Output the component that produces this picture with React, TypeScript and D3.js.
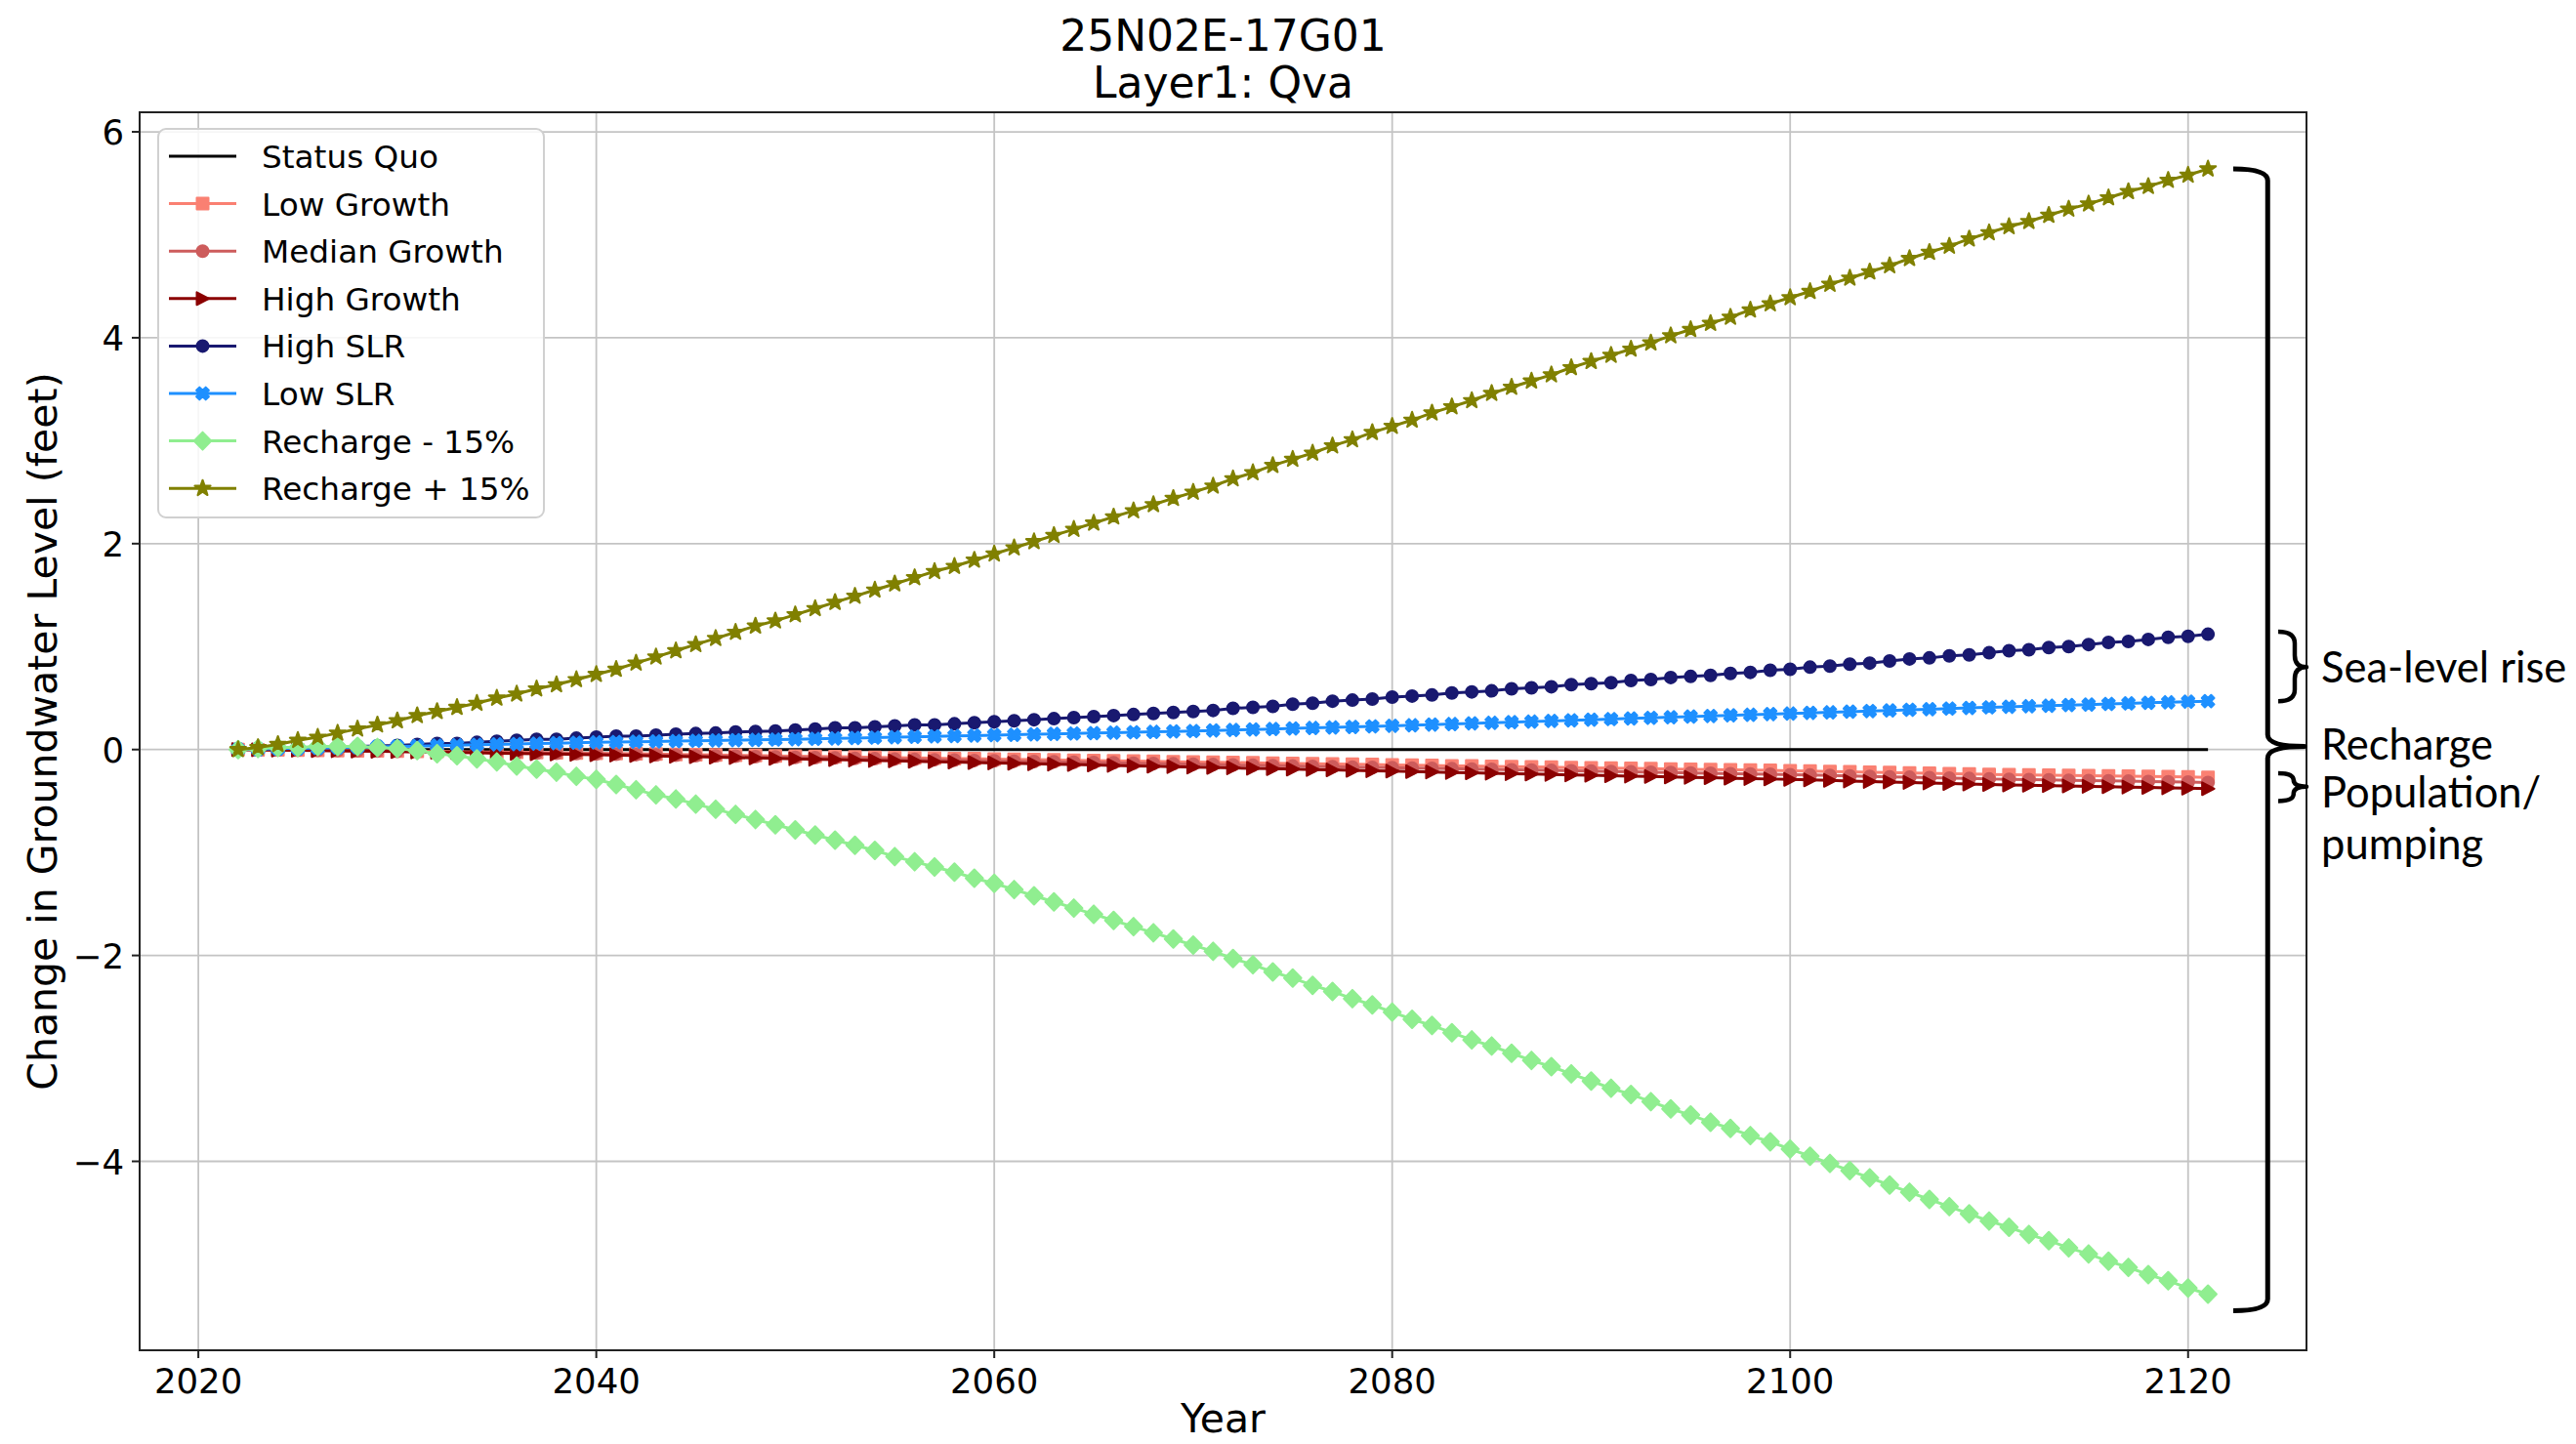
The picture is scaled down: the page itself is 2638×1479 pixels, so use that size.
import React from "react";
import * as d3 from "d3";

const years = d3.range(2022, 2122);

const statusQuo = [
  0,0,0,0,0,0,0,0,0,0, 0,0,0,0,0,0,0,0,0,0, 0,0,0,0,0,0,0,0,0,0, 0,0,0,0,0,0,0,0,0,0, 0,0,0,0,0,0,0,0,0,0,
  0,0,0,0,0,0,0,0,0,0, 0,0,0,0,0,0,0,0,0,0, 0,0,0,0,0,0,0,0,0,0, 0,0,0,0,0,0,0,0,0,0, 0,0,0,0,0,0,0,0,0,0,
];

const lowGrowth = [
  0,-0.002,-0.003,-0.005,-0.007,-0.009,-0.011,-0.012,-0.014,
  -0.016,-0.018,-0.021,-0.023,-0.025,-0.027,-0.029,-0.031,-0.033,-0.036,
  -0.038,-0.041,-0.044,-0.047,-0.05,-0.053,-0.055,-0.058,-0.061,-0.064,
  -0.067,-0.07,-0.072,-0.075,-0.078,-0.081,-0.084,-0.087,-0.089,-0.092,
  -0.095,-0.098,-0.101,-0.104,-0.107,-0.109,-0.112,-0.115,-0.118,-0.121,
  -0.124,-0.126,-0.129,-0.132,-0.135,-0.138,-0.141,-0.143,-0.146,-0.149,
  -0.152,-0.155,-0.158,-0.16,-0.163,-0.166,-0.169,-0.172,-0.175,-0.178,
  -0.18,-0.183,-0.186,-0.189,-0.192,-0.195,-0.197,-0.2,-0.203,-0.206,
  -0.209,-0.213,-0.216,-0.22,-0.224,-0.227,-0.231,-0.234,-0.238,-0.241,
  -0.244,-0.246,-0.249,-0.251,-0.254,-0.256,-0.259,-0.261,-0.264,-0.267,-0.27,
];

const medianGrowth = [
  0,-0.002,-0.004,-0.006,-0.008,-0.01,-0.012,-0.014,-0.017,
  -0.019,-0.022,-0.024,-0.027,-0.029,-0.032,-0.034,-0.037,-0.039,-0.042,
  -0.045,-0.049,-0.052,-0.055,-0.059,-0.062,-0.065,-0.069,-0.072,-0.076,
  -0.079,-0.082,-0.086,-0.089,-0.092,-0.096,-0.099,-0.102,-0.106,-0.109,
  -0.113,-0.116,-0.119,-0.123,-0.126,-0.129,-0.133,-0.136,-0.139,-0.143,
  -0.146,-0.15,-0.153,-0.156,-0.16,-0.163,-0.166,-0.17,-0.173,-0.176,
  -0.18,-0.183,-0.186,-0.19,-0.193,-0.197,-0.2,-0.203,-0.207,-0.21,
  -0.213,-0.217,-0.22,-0.223,-0.227,-0.23,-0.234,-0.237,-0.24,-0.244,
  -0.248,-0.252,-0.256,-0.26,-0.265,-0.269,-0.273,-0.277,-0.281,-0.286,
  -0.289,-0.292,-0.295,-0.298,-0.301,-0.304,-0.307,-0.31,-0.313,-0.316,-0.32,
];

const highGrowth = [
  0,-0.002,-0.005,-0.007,-0.01,-0.012,-0.015,-0.017,-0.02,
  -0.023,-0.026,-0.029,-0.032,-0.035,-0.038,-0.041,-0.044,-0.047,-0.05,
  -0.054,-0.058,-0.062,-0.066,-0.07,-0.074,-0.078,-0.082,-0.086,-0.09,
  -0.094,-0.098,-0.102,-0.106,-0.11,-0.114,-0.118,-0.122,-0.126,-0.13,
  -0.134,-0.138,-0.142,-0.146,-0.15,-0.154,-0.158,-0.162,-0.166,-0.17,
  -0.174,-0.178,-0.182,-0.186,-0.19,-0.194,-0.198,-0.202,-0.206,-0.21,
  -0.214,-0.218,-0.222,-0.226,-0.23,-0.234,-0.238,-0.242,-0.246,-0.25,
  -0.254,-0.258,-0.262,-0.266,-0.27,-0.274,-0.278,-0.282,-0.286,-0.29,
  -0.295,-0.3,-0.305,-0.31,-0.315,-0.32,-0.325,-0.33,-0.335,-0.34,
  -0.344,-0.347,-0.351,-0.354,-0.358,-0.361,-0.365,-0.368,-0.372,-0.376,-0.38,
];

const highSLR = [
  0,0.005,0.01,0.015,0.02,0.025,0.03,0.035,0.04,
  0.05,0.06,0.06,0.07,0.08,0.09,0.1,0.1,0.11,0.12,
  0.13,0.13,0.14,0.15,0.155,0.16,0.17,0.175,0.18,0.19,
  0.2,0.21,0.21,0.22,0.23,0.24,0.24,0.25,0.26,0.27,
  0.28,0.29,0.3,0.31,0.32,0.33,0.34,0.35,0.36,0.37,
  0.38,0.4,0.41,0.42,0.44,0.45,0.47,0.48,0.49,0.51,
  0.52,0.53,0.55,0.56,0.57,0.59,0.6,0.61,0.63,0.64,
  0.65,0.67,0.68,0.7,0.71,0.72,0.74,0.75,0.77,0.78,
  0.8,0.81,0.83,0.84,0.86,0.88,0.89,0.91,0.92,0.94,
  0.96,0.97,0.99,1.0,1.02,1.04,1.05,1.07,1.09,1.1,1.12,
];

const lowSLR = [
  0,0.004,0.008,0.011,0.015,0.019,0.022,0.026,0.03,
  0.034,0.038,0.042,0.046,0.05,0.054,0.058,0.062,0.066,0.07,
  0.073,0.076,0.079,0.082,0.085,0.088,0.091,0.094,0.097,0.1,
  0.104,0.108,0.112,0.116,0.12,0.124,0.128,0.132,0.136,0.14,
  0.144,0.148,0.152,0.156,0.16,0.164,0.168,0.172,0.176,0.18,
  0.185,0.19,0.195,0.2,0.205,0.21,0.215,0.22,0.225,0.23,
  0.236,0.242,0.248,0.254,0.26,0.266,0.272,0.278,0.284,0.29,
  0.296,0.302,0.308,0.314,0.32,0.326,0.332,0.338,0.344,0.35,
  0.356,0.362,0.368,0.374,0.38,0.386,0.392,0.398,0.404,0.41,
  0.415,0.421,0.426,0.432,0.437,0.443,0.448,0.454,0.459,0.465,0.47,
];

const rechargeMinus15 = [
  0,0.01,0.02,0.02,0.03,0.03,0.03,0.02,0.01,
  -0.01,-0.04,-0.06,-0.09,-0.12,-0.16,-0.19,-0.22,-0.26,-0.29,
  -0.34,-0.39,-0.44,-0.48,-0.53,-0.58,-0.63,-0.68,-0.73,-0.78,
  -0.83,-0.88,-0.93,-0.98,-1.04,-1.09,-1.14,-1.19,-1.25,-1.3,
  -1.36,-1.42,-1.48,-1.54,-1.6,-1.66,-1.72,-1.78,-1.84,-1.9,
  -1.96,-2.03,-2.09,-2.16,-2.22,-2.29,-2.35,-2.42,-2.48,-2.55,
  -2.62,-2.68,-2.75,-2.82,-2.88,-2.95,-3.02,-3.08,-3.15,-3.22,
  -3.29,-3.35,-3.42,-3.49,-3.55,-3.62,-3.68,-3.75,-3.81,-3.88,
  -3.95,-4.02,-4.09,-4.16,-4.23,-4.3,-4.37,-4.44,-4.51,-4.58,
  -4.64,-4.71,-4.77,-4.84,-4.9,-4.97,-5.03,-5.1,-5.16,-5.23,-5.29,
];

const rechargePlus15 = [
  0,0.02,0.05,0.09,0.12,0.16,0.2,0.24,0.28,
  0.33,0.37,0.41,0.45,0.5,0.54,0.59,0.63,0.68,0.73,
  0.78,0.84,0.9,0.96,1.02,1.08,1.14,1.2,1.25,1.31,
  1.37,1.43,1.49,1.55,1.61,1.67,1.73,1.78,1.84,1.9,
  1.96,2.02,2.08,2.14,2.2,2.26,2.32,2.38,2.44,2.5,
  2.56,2.63,2.69,2.76,2.82,2.88,2.95,3.01,3.08,3.14,
  3.2,3.27,3.33,3.39,3.46,3.52,3.58,3.64,3.71,3.77,
  3.83,3.89,3.95,4.02,4.08,4.14,4.2,4.27,4.33,4.39,
  4.45,4.52,4.58,4.64,4.7,4.77,4.83,4.89,4.96,5.02,
  5.08,5.13,5.19,5.25,5.3,5.36,5.42,5.47,5.53,5.58,5.64,
];

const seriesNames = [
  "Status Quo", "Low Growth", "Median Growth", "High Growth",
  "High SLR", "Low SLR", "Recharge - 15%", "Recharge + 15%",
];
const seriesValues = [
  statusQuo, lowGrowth, medianGrowth, highGrowth,
  highSLR, lowSLR, rechargeMinus15, rechargePlus15,
];
const seriesColors = [
  "#000000", "#fa8072", "#cd5c5c", "#8b0000",
  "#191970", "#1e90ff", "#90ee90", "#808000",
];
const seriesMarkers = ["none", "square", "circle", "triangleRight", "circle", "xFilled", "diamond", "star"];

const xTicks = [2020, 2040, 2060, 2080, 2100, 2120];
const yTicks = [-4, -2, 0, 2, 4, 6];

const titleLines = ["25N02E-17G01", "Layer1: Qva"];

// brace annotations (in data units): [yearLeft, yearStem, yearTip, top, mid, bottom]
const braceSpecs = [
  [2122.27, 2124.0, 2125.85, 5.64, 0.03, -5.45],
  [2124.53, 2125.36, 2125.95, 1.145, 0.8, 0.47],
  [2124.53, 2125.3, 2125.95, -0.23, -0.36, -0.5],
];

const W = 2638;
const H = 1479;
const left = 143, right = 2362, top = 115, bottom = 1383;

function markerPath(type: string): string {
  switch (type) {
    case "square":
      return "M-6,-6h12v12h-12z";
    case "circle":
      return d3.symbol(d3.symbolCircle, Math.PI * 6 * 6)() as string;
    case "triangleRight":
      return "M6.5,0L-6,-6.5L-6,6.5Z";
    case "xFilled": {
      const pts = [[-1,-2],[0,-1],[1,-2],[2,-1],[1,0],[2,1],[1,2],[0,1],[-1,2],[-2,1],[-1,0],[-2,-1]];
      return "M" + pts.map((p) => `${p[0] * 3.2},${p[1] * 3.2}`).join("L") + "Z";
    }
    case "diamond":
      return "M0,-9L8.8,0L0,9L-8.8,0Z";
    case "star": {
      const outer = 8.5, inner = 3.4;
      const pts: string[] = [];
      for (let i = 0; i < 10; i++) {
        const r = i % 2 === 0 ? outer : inner;
        const a = -Math.PI / 2 + (i * Math.PI) / 5;
        pts.push(`${r * Math.cos(a)},${r * Math.sin(a)}`);
      }
      return "M" + pts.join("L") + "Z";
    }
    default:
      return "";
  }
}

export default function App() {
  const x = d3.scaleLinear().domain([2017.05, 2125.95]).range([left, right]);
  const y = d3.scaleLinear().domain([-5.835, 6.19]).range([bottom, top]);
  const line = d3.line<number>().x((_, i) => x(years[i])).y((d) => y(d));

  const font = "'DejaVu Sans', sans-serif";
  const legendX = 162, legendY = 132, legendW = 395, legendH = 398;
  const rowH = 48.6;

  const bracePath = (b: number[]) => {
    const [yl, ys, yt, t, m, bt] = b;
    const xl = x(yl), xs = x(ys), xt = x(yt);
    const yT = y(t), yM = y(m), yB = y(bt);
    const r = Math.min(12, (yB - yT) / 4);
    return `M${xl},${yT} Q${xs},${yT} ${xs},${yT + r} L${xs},${yM - r} Q${xs},${yM} ${xt},${yM} Q${xs},${yM} ${xs},${yM + r} L${xs},${yB - r} Q${xs},${yB} ${xl},${yB}`;
  };

  return (
    <svg width={W} height={H} style={{ position: "absolute", left: 0, top: 0, background: "#fff", display: "block" }}>
      <rect x={0} y={0} width={W} height={H} fill="#fff" />
      {/* grid */}
      <g stroke="#c4c4c4" strokeWidth={1.8}>
        {xTicks.map((t) => (
          <line key={"gx" + t} x1={x(t)} x2={x(t)} y1={top} y2={bottom} />
        ))}
        {yTicks.map((t) => (
          <line key={"gy" + t} x1={left} x2={right} y1={y(t)} y2={y(t)} />
        ))}
      </g>
      {/* series */}
      <defs>
        <clipPath id="plotclip">
          <rect x={left} y={top} width={right - left} height={bottom - top} />
        </clipPath>
      </defs>
      <g clipPath="url(#plotclip)">
        {seriesValues.map((vals, si) => (
          <g key={"s" + si}>
            <path d={line(vals) as string} fill="none" stroke={seriesColors[si]} strokeWidth={3} />
            {seriesMarkers[si] !== "none" &&
              vals.map((v, i) => (
                <path
                  key={i}
                  d={markerPath(seriesMarkers[si])}
                  transform={`translate(${x(years[i])},${y(v)})`}
                  fill={seriesColors[si]}
                  stroke={seriesColors[si]}
                  strokeWidth={2}
                  strokeLinejoin="round"
                />
              ))}
          </g>
        ))}
      </g>
      {/* spines */}
      <rect x={left} y={top} width={right - left} height={bottom - top} fill="none" stroke="#222" strokeWidth={2} />
      {/* ticks */}
      <g stroke="#222" strokeWidth={2}>
        {xTicks.map((t) => (
          <line key={"tx" + t} x1={x(t)} x2={x(t)} y1={bottom} y2={bottom + 8} />
        ))}
        {yTicks.map((t) => (
          <line key={"ty" + t} x1={left - 8} x2={left} y1={y(t)} y2={y(t)} />
        ))}
      </g>
      <g fontFamily={font} fontSize={35.5} fill="#000">
        {xTicks.map((t) => (
          <text key={"lx" + t} x={x(t)} y={1427} textAnchor="middle">{t}</text>
        ))}
        {yTicks.map((t) => (
          <text key={"ly" + t} x={127} y={y(t) + 13} textAnchor="end">
            {t < 0 ? "\u2212" + Math.abs(t) : String(t)}
          </text>
        ))}
      </g>
      {/* axis labels */}
      <text x={(left + right) / 2} y={1467} textAnchor="middle" fontFamily={font} fontSize={41}>Year</text>
      <text
        transform={`translate(58,${(top + bottom) / 2}) rotate(-90)`}
        textAnchor="middle"
        fontFamily={font}
        fontSize={41}
      >
        Change in Groundwater Level (feet)
      </text>
      {/* title */}
      <g fontFamily={font} fontSize={44} textAnchor="middle">
        <text x={(left + right) / 2} y={52}>{titleLines[0]}</text>
        <text x={(left + right) / 2} y={100}>{titleLines[1]}</text>
      </g>
      {/* legend */}
      <rect x={legendX} y={legendY} width={legendW} height={legendH} rx={8} ry={8}
        fill="#fff" fillOpacity={0.85} stroke="#d0d0d0" strokeWidth={2} />
      {seriesNames.map((name, i) => {
        const cy = 160 + i * rowH;
        return (
          <g key={"lg" + i}>
            <line x1={173} x2={242} y1={cy} y2={cy} stroke={seriesColors[i]} strokeWidth={3} />
            {seriesMarkers[i] !== "none" && (
              <path d={markerPath(seriesMarkers[i])} transform={`translate(207.5,${cy})`}
                fill={seriesColors[i]} stroke={seriesColors[i]} strokeWidth={2} strokeLinejoin="round" />
            )}
            <text x={268} y={cy + 12} fontFamily={font} fontSize={32.7}>{name}</text>
          </g>
        );
      })}
      {/* braces */}
      {braceSpecs.map((b, i) => (
        <path key={"br" + i} d={bracePath(b)} fill="none" stroke="#000" strokeWidth={i === 0 ? 5 : 4.5} strokeLinejoin="round" />
      ))}
      <g fontFamily="Lato, 'Open Sans', sans-serif" fontSize={43.5} fill="#000">
        <text x={2377} y={699}>Sea-level rise</text>
        <text x={2377} y={778}>Recharge</text>
        <text x={2377} y={827}>Population/</text>
        <text x={2377} y={880}>pumping</text>
      </g>
    </svg>
  );
}
